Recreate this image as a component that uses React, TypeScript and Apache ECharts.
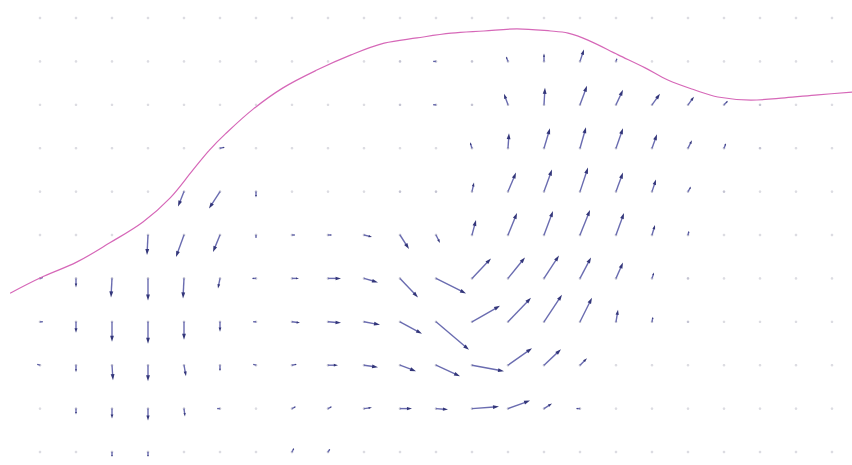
import React, { useEffect, useRef } from "react";
import * as echarts from "echarts";

// Grid of the vector field: 23 columns (x = 0..22) and 11 rows (y = 10 at top .. 0 at bottom)
const gridCols: number[] = Array.from({ length: 23 }, (_, i) => i);
const gridRows: number[] = [10, 9, 8, 7, 6, 5, 4, 3, 2, 1, 0];

// Horizontal vector components, one row per grid row (top to bottom)
const U: number[][] = [
  [0, 0, 0, 0, 0, 0, 0, 0, 0, 0, 0, 0, 0, 0, 0, 0, 0, 0, 0, 0, 0, 0, 0],
  [0, 0, 0, 0, 0, 0, 0, 0, 0, 0, 2, -3, 1, -2, 0, 4, 1, 0, 0, 0, 0, 0, 0],
  [0, 0, 0, 0, 0, 0, 0, 0, 0, 0, 2, -3, 1, -4, 1, 7, 7, 8, 6, 4, 1, 0, 0],
  [0, 0, 0, 0, 0, 5, 0, 0, 0, 0, 0, 0, -2, 1, 6, 6, 7, 5, 4, 2, 1, 0, 0],
  [0, 0, 0, 0, -6, -11, 0, 0, 0, 0, 1, 0, 2, 8, 8, 8, 7, 4, 3, 1, 0, 0, 0],
  [0, 0, 0, -1, -8, -7, 0, 3, 4, 8, 9, 4, 4, 9, 9, 10, 8, 3, 1, 0, 0, 0, 0],
  [3, 0, -1, 0, -1, -2, -4, 7, 13, 14, 18, 30, 19, 17, 15, 11, 7, 2, 1, 0, 0, 0, 0],
  [3, 0, 0, 0, 0, 0, -3, 8, 13, 16, 22, 33, 28, 23, 18, 12, 2, 1, 2, 0, 0, 0, 0],
  [-3, 0, 1, 0, 2, 0, -3, 5, 10, 14, 16, 24, 32, 24, 17, 7, 0, 0, 0, 0, 0, 0, 0],
  [0, 0, 0, 0, 1, -3, 0, 4, 4, 8, 12, 12, 27, 22, 8, -4, 0, 0, 0, 0, 0, 0, 0],
  [0, 0, 0, 0, 0, 0, 0, 2, 2, 0, 0, 0, 0, 0, 0, 0, 0, 0, 0, 0, 0, 0, 0],
];

// Vertical vector components (positive = upward)
const V: number[][] = [
  [0, 0, 0, 0, 0, 0, 0, 0, 0, 0, 0, 0, 0, 0, 0, 0, 0, 0, 0, 0, 0, 0, 0],
  [0, 0, 0, 0, 0, 0, 0, 0, 0, 0, 0, 0, 1, 5, 8, 12, 3, 0, 0, 0, 0, 0, 0],
  [0, 0, 0, 0, 0, 0, 0, 0, 0, 0, 0, 0, 2, 11, 17, 19, 15, 11, 8, 4, 1, 0, 0],
  [0, 0, 0, 0, 0, 1, 0, 0, 0, 0, 0, 0, 6, 15, 20, 21, 20, 14, 8, 5, 2, 0, 0],
  [0, 0, 0, 0, -15, -17, -6, 0, 0, 0, 1, 2, 9, 19, 22, 24, 19, 12, 5, 2, 0, 0, 0],
  [0, 0, 0, -20, -22, -17, -3, 0, 0, -2, -14, -8, 15, 22, 24, 25, 22, 10, 4, 0, 0, 0, 0],
  [1, -9, -19, -22, -20, -10, 0, 0, 0, -4, -19, -15, 20, 21, 23, 21, 16, 6, 2, 0, 0, 0, 0],
  [0, -11, -20, -22, -18, -10, 0, -1, -1, -3, -12, -28, 16, 24, 27, 24, 12, 5, -1, 0, 0, 0, 0],
  [1, -7, -15, -16, -11, -6, 1, 1, 0, -2, -6, -11, -6, 17, 16, 7, 0, 0, 0, 0, 0, 0, 0],
  [0, -6, -10, -12, -8, 0, 0, 2, 2, 1, 0, -1, 2, 8, 5, 0, 0, 0, 0, 0, 0, 0, 0],
  [0, 0, -5, -5, 0, 0, 0, 4, 3, 0, 0, 0, 0, 0, 0, 0, 0, 0, 0, 0, 0, 0, 0],
];

// Surface curve
const curveX: number[] = [
  -0.83, 0, 1.03, 1.94, 2.86, 3.61, 4.25, 4.7, 5.15, 5.92, 6.75, 7.69, 8.64, 9.56,
  10.47, 11.42, 12.33, 13.25, 14.19, 14.67, 15.22, 16.06, 16.81, 17.44, 18.19,
  18.83, 19.75, 20.69, 21.61, 22.56,
];
const curveY: number[] = [
  3.66, 4.01, 4.38, 4.82, 5.3, 5.85, 6.5, 6.95, 7.33, 7.9, 8.39, 8.8, 9.15, 9.42,
  9.54, 9.65, 9.7, 9.75, 9.7, 9.65, 9.49, 9.15, 8.85, 8.57, 8.34, 8.18, 8.11, 8.16,
  8.23, 8.29,
];

const X_MIN = -40 / 36;
const X_MAX = 812 / 36;
const Y_MIN = -13 / 43.4;
const Y_MAX = 452 / 43.4;

export default function App() {
  const ref = useRef<HTMLDivElement>(null);
  useEffect(() => {
    document.body.style.margin = "0";
    const chart = echarts.init(ref.current!, null, { renderer: "svg" });

    const quiverData: number[][] = [];
    gridRows.forEach((y, j) => {
      gridCols.forEach((x, i) => {
        quiverData.push([x, y, U[j][i], V[j][i]]);
      });
    });

    const renderItem = (params: any, api: any) => {
      const x = api.value(0);
      const y = api.value(1);
      const u = api.value(2);
      const v = api.value(3);
      const p = api.coord([x, y]);
      const len = Math.hypot(u, v);
      const children: any[] = [
        {
          type: "circle",
          shape: { cx: p[0], cy: p[1], r: 1.3 },
          style: { fill: len > 0 ? "#c4c4d2" : "#dcdce2" },
        },
      ];
      if (len >= 2.5) {
        const ex = p[0] + u;
        const ey = p[1] - v;
        const ux = u / len;
        const uy = -v / len;
        const hl = Math.min(6, len * 0.42);
        const hw = hl * 0.32;
        const bx = ex - ux * hl;
        const by = ey - uy * hl;
        const nx = -uy;
        const ny = ux;
        children.push({
          type: "line",
          shape: { x1: p[0], y1: p[1], x2: bx + ux * 1, y2: by + uy * 1 },
          style: { stroke: "#6a6cb0", lineWidth: 1.4 },
        });
        children.push({
          type: "polygon",
          shape: {
            points: [
              [ex, ey],
              [bx + nx * hw, by + ny * hw],
              [bx - nx * hw, by - ny * hw],
            ],
          },
          style: { fill: "#33367a" },
        });
      }
      return { type: "group", children };
    };

    chart.setOption({
      animation: false,
      backgroundColor: "#ffffff",
      grid: { left: 0, right: 0, top: 0, bottom: 0 },
      xAxis: { type: "value", min: X_MIN, max: X_MAX, show: false },
      yAxis: { type: "value", min: Y_MIN, max: Y_MAX, show: false },
      series: [
        {
          type: "custom",
          renderItem,
          data: quiverData,
          z: 2,
          silent: true,
        },
        {
          type: "line",
          data: curveX.map((x, k) => [x, curveY[k]]),
          smooth: 0.35,
          symbol: "none",
          lineStyle: { color: "#d668b8", width: 1.2 },
          z: 3,
          silent: true,
        },
      ],
    });
    return () => chart.dispose();
  }, []);
  return <div ref={ref} style={{ width: 852, height: 465 }} />;
}
